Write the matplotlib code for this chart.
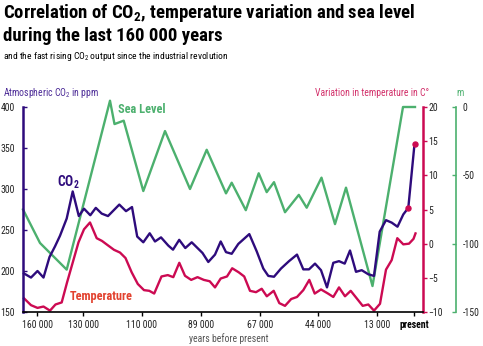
import matplotlib
matplotlib.use("Agg")
import matplotlib.pyplot as plt
from matplotlib import font_manager

# ---------------------------------------------------------------
# data (x = position along the drawn time axis, 0 .. 400)
# ---------------------------------------------------------------

TICK_POS	= [14, 60, 119, 178, 237, 295, 354, 391]
TICK_LABELS	= ["160 000", "130 000", "110 000", "89 000", "67 000", "44 000", "13 000", "present"]

CO2_X = [1, 8, 14.5, 20.5, 26.5, 32, 37, 43.7, 49.7, 55.8, 61, 67.3, 72.8, 78.7, 85,
         96.3, 103, 109, 114.2, 120.3, 126.7, 132, 138, 145.3, 150, 156.2, 162.3, 168.7,
         179.5, 185.3, 192, 197.7, 203, 208.7, 215.3, 226.3, 233.7, 240.3, 245.3, 251,
         258, 266, 274, 280.3, 286, 292, 298, 304, 310.3, 316, 321.7, 327, 333, 338.7,
         345.3, 351, 356.7, 363, 368.7, 374.5, 380.3, 385.3, 391.2]
CO2_PPM = [197, 192, 200, 192, 217, 230, 243, 264, 297, 267, 276, 268, 277, 270, 267,
           281, 273, 278, 242, 235, 246, 236, 241, 231, 226, 238, 228, 235,
           222, 211, 220, 236, 223, 221, 233, 245, 224, 203, 194, 193,
           203, 212, 220, 202, 202, 209, 201, 180, 210, 212, 209, 225, 199, 201,
           196, 194, 248, 262, 259, 254, 269, 277, 351]

CO2_DOT_X	= [385.3, 392]
CO2_DOT_PPM	= [277, 355]

TEMP_X = [1, 8, 14.5, 20.5, 27, 32.5, 38.7, 44, 55.5, 61, 67, 73.7, 79, 84.5, 91, 97,
          102.5, 108.7, 114.8, 121, 126.3, 131.2, 138.5, 144.8, 150.3, 156.3, 162,
          168.2, 174.5, 180.8, 186.7, 192, 197.7, 204, 209.2, 215.8, 221.2, 227, 233,
          238.7, 243.8, 250.7, 256.3, 262, 268.2, 274, 280.3, 286.3, 291.7, 298, 305,
          310.3, 316, 322, 327.7, 333.7, 339.7, 345.3, 351, 357, 363, 368.7, 374.3,
          380.3, 386, 390.5, 392.5]
TEMP_C = [-8.0, -9.0, -9.4, -9.2, -9.8, -8.9, -8.6, -5.7, 0.2, 2.1, 3.1, 0.8, 0.4, -0.2,
          -0.9, -1.3, -2.1, -4.2, -5.9, -6.8, -6.9, -7.3, -4.8, -4.6, -4.9, -2.8, -4.7,
          -5.3, -4.9, -5.3, -5.5, -6.4, -5.1, -4.8, -3.6, -4.2, -4.8, -6.9, -7.1,
          -6.6, -7.7, -6.9, -8.7, -9.1, -8.1, -7.8, -6.8, -5.3, -7.3, -6.7, -7.3,
          -7.8, -6.4, -7.7, -6.9, -8.0, -9.1, -8.9, -9.8, -8.8, -3.8, -2.4, 0.8,
          -0.1, 0.0, 0.7, 1.5]

SEA_X = [0, 17, 43.7, 87, 91.5, 100.7, 120.3, 142, 167, 183.7, 203, 208.7, 222.8, 235.7,
         243.7, 251, 262, 275.8, 283.7, 298.5, 312, 323, 349.5, 380, 392]
SEA_M = [-75, -99.5, -119, 4.6, -12.5, -10, -61.5, -17.6, -60, -31.3, -63.2, -55.4, -75.5,
         -48.5, -62.3, -55, -77, -64.3, -73.7, -51.7, -85.7, -59, -131, 0, 0]

# ---------------------------------------------------------------
# style
# ---------------------------------------------------------------

C_CO2		= "#2e0b7c"
C_TEMP		= "#cc0a52"
C_SEA		= "#4cb06e"
TICK_SIZE	= 7

# pick a condensed face if one is around
fonts = font_manager.fontManager.ttflist
names = {f.name for f in fonts}
stretch = "normal"
font = "DejaVu Sans"
for cand in ["Roboto Condensed", "Liberation Sans Narrow", "Open Sans Condensed", "DejaVu Sans Condensed"]:
	if cand in names:
		font = cand
		break
else:
	if any(f.name == "DejaVu Sans" and f.stretch not in ("normal", 500) for f in fonts):
		stretch = "condensed"

plt.rcParams["font.family"]		= [font, "DejaVu Sans"]
plt.rcParams["font.stretch"]		= stretch
plt.rcParams["mathtext.fontset"]	= "custom"
plt.rcParams["mathtext.rm"]		= f"{font}:stretch={stretch}"
plt.rcParams["mathtext.bf"]		= f"{font}:bold:stretch={stretch}"
plt.rcParams["mathtext.default"]	= "regular"

fig = plt.figure(figsize=(4.83, 3.46), dpi=100)
rect = [23/483, 34/346, 400/483, 205/346]

ax_sea	= fig.add_axes(rect)
ax_temp	= fig.add_axes(rect)
ax	= fig.add_axes(rect)
for a in (ax_sea, ax_temp, ax):
	a.patch.set_visible(False)
	a.set_xlim(0, 400)
	for s in a.spines.values():
		s.set_visible(False)

# sea level (green axis, far right)
ax_sea.plot(SEA_X, SEA_M, color=C_SEA, lw=1.7, clip_on=False)
ax_sea.set_ylim(-150, 0)
ax_sea.set_yticks([0, -50, -100, -150])
ax_sea.set_yticklabels(["0", "-50", "-100", "-150"])
ax_sea.yaxis.tick_right()
ax_sea.spines["right"].set_visible(True)
ax_sea.spines["right"].set_position(("axes", 1.082))
ax_sea.spines["right"].set_color(C_SEA)
ax_sea.spines["right"].set_linewidth(1.2)
ax_sea.tick_params(axis="y", direction="in", length=3, width=1, color=C_SEA, pad=5,
                   labelsize=TICK_SIZE, labelcolor="#222222")
ax_sea.set_xticks([])

# temperature (red axis, right)
ax_temp.plot(TEMP_X, TEMP_C, color=C_TEMP, lw=1.7, clip_on=False)
ax_temp.set_ylim(-10, 20)
ax_temp.set_yticks([-10, -5, 0, 5, 10, 15, 20])
ax_temp.yaxis.tick_right()
ax_temp.spines["right"].set_visible(True)
ax_temp.spines["right"].set_color(C_TEMP)
ax_temp.spines["right"].set_linewidth(1.8)
ax_temp.tick_params(axis="y", direction="out", length=3, width=1, color=C_TEMP, pad=1,
                    labelsize=TICK_SIZE, labelcolor="#222222")
ax_temp.set_xticks([])

# CO2 (left axis)
ax.plot(CO2_X, CO2_PPM, color=C_CO2, lw=1.7, clip_on=False)
ax.plot(CO2_DOT_X, CO2_DOT_PPM, "o", color=C_TEMP, ms=3.6, clip_on=False, zorder=5)
ax.set_ylim(150, 400)
ax.set_yticks([150, 200, 250, 300, 350, 400])
ax.spines["left"].set_visible(True)
ax.spines["left"].set_color(C_CO2)
ax.spines["left"].set_linewidth(1.8)
ax.spines["bottom"].set_visible(True)
ax.spines["bottom"].set_color("black")
ax.spines["bottom"].set_linewidth(1.2)
ax.tick_params(axis="y", direction="in", length=3, width=1, color=C_CO2, pad=6,
               labelsize=TICK_SIZE, labelcolor="#222222")
ax.set_xticks(TICK_POS)
ax.set_xticklabels(TICK_LABELS)
ax.tick_params(axis="x", direction="out", length=3, width=1, pad=3, labelsize=TICK_SIZE,
               labelcolor="#222222")
ax.get_xticklabels()[-1].set_fontweight("bold")
ax.get_xticklabels()[-1].set_color("black")

# series labels
ax.text(34, 303.5, "CO$_2$", color=C_CO2, fontsize=9.8, fontweight="bold", va="baseline")
ax.text(95.3, 392.5, "Sea Level", color=C_SEA, fontsize=8.8, fontweight="bold", va="baseline")
ax.text(47, 164.5, "Temperature", color="#e2412e", fontsize=8.8, fontweight="bold", va="baseline")

# axis titles
fig.text(3/483, 1 - 96.5/346, "Atmospheric CO$_2$ in ppm", color="#4b2a96", fontsize=7, va="baseline")
fig.text(315/483, 1 - 96.5/346, "Variation in temperature in C°", color="#d2306a", fontsize=7, va="baseline")
fig.text(456/483, 1 - 96.5/346, "m", color=C_SEA, fontsize=7, va="baseline")
fig.text(229/483, 1 - 342/346, "years before present", color="#555555", fontsize=7, ha="center", va="baseline")

# headline
t1 = fig.text(3/483, 1 - 17.5/346, "Correlation of CO$_2$, temperature variation and sea level",
              fontsize=13.5, fontweight="bold", va="baseline")
t2 = fig.text(3/483, 1 - 41/346, "during the last 160 000 years",
              fontsize=13.5, fontweight="bold", va="baseline")
t3 = fig.text(3/483, 1 - 59/346, "and the fast rising CO$_2$ output since the industrial revolution",
              fontsize=6.8, va="baseline")

# squeeze the headline to the width it has in the original
fig.canvas.draw()
r = fig.canvas.get_renderer()
k = 442/t1.get_window_extent(r).width
if k < 1:
	t1.set_fontsize(13.5*k)
	t2.set_fontsize(13.5*k)
k = 281/t3.get_window_extent(r).width
if k < 1:
	t3.set_fontsize(6.8*k)

fig.savefig("out.png", dpi=100)
